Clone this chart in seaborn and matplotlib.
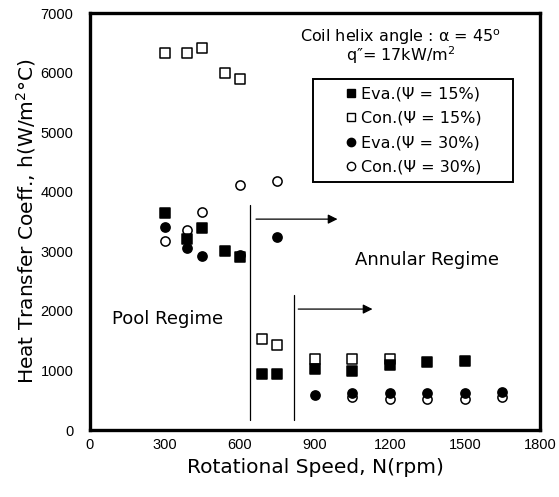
import matplotlib
matplotlib.use("Agg")
import matplotlib.pyplot as plt
import seaborn as sns
import pandas as pd

# ---- data ----
eva15_x = [300, 390, 450, 540, 600, 690, 750, 900, 1050, 1200, 1350, 1500]
eva15_y = [3650, 3200, 3390, 3000, 2900, 935, 935, 1030, 990, 1095, 1150, 1165]
con15_x = [300, 390, 450, 540, 600, 690, 750, 900, 1050, 1200]
con15_y = [6330, 6335, 6410, 6000, 5890, 1530, 1430, 1185, 1200, 1200]
eva30_x = [300, 390, 450, 600, 750, 900, 1050, 1200, 1350, 1500, 1650]
eva30_y = [3410, 3050, 2920, 2940, 3245, 590, 615, 625, 625, 615, 640]
con30_x = [300, 390, 450, 600, 750, 1050, 1200, 1350, 1500, 1650]
con30_y = [3180, 3360, 3655, 4115, 4180, 550, 525, 525, 515, 555]

series_labels = ["Eva.(\u03A8 = 15%)", "Con.(\u03A8 = 15%)",
                 "Eva.(\u03A8 = 30%)", "Con.(\u03A8 = 30%)"]

x_ticks = [0, 300, 600, 900, 1200, 1500, 1800]
y_ticks = [0, 1000, 2000, 3000, 4000, 5000, 6000, 7000]

# regime boundary lines: (x, y_bottom, y_top) and arrows: (x_start, x_end, y)
boundary_lines = [(640, 170, 3780), (818, 170, 2270)]
arrows = [(664, 990, 3540), (833, 1130, 2030)]

df = pd.concat([
    pd.DataFrame({"N": eva15_x, "h": eva15_y, "series": series_labels[0]}),
    pd.DataFrame({"N": con15_x, "h": con15_y, "series": series_labels[1]}),
    pd.DataFrame({"N": eva30_x, "h": eva30_y, "series": series_labels[2]}),
    pd.DataFrame({"N": con30_x, "h": con30_y, "series": series_labels[3]}),
], ignore_index=True)

sns.set_theme(style="white")
plt.rcParams["font.family"] = ["DejaVu Sans"]
plt.rcParams["text.color"] = "black"
plt.rcParams["axes.labelcolor"] = "black"
plt.rcParams["xtick.labelcolor"] = "black"
plt.rcParams["ytick.labelcolor"] = "black"
TICKFONT = ["Liberation Sans", "DejaVu Sans"]

fig = plt.figure(figsize=(5.59, 4.97), dpi=100)
ax = fig.add_axes([0.161, 0.1348, 0.805, 0.839])

styles = {
    series_labels[1]: dict(marker="s", facecolor="white"),
    series_labels[3]: dict(marker="o", facecolor="white"),
    series_labels[2]: dict(marker="o", facecolor="black"),
    series_labels[0]: dict(marker="s", facecolor="black"),
}
handles = {}
for lab in [series_labels[1], series_labels[3], series_labels[2], series_labels[0]]:
    st = styles[lab]
    sub = df[df["series"] == lab]
    sns.scatterplot(data=sub, x="N", y="h", ax=ax, marker=st["marker"],
                    s=44, facecolor=st["facecolor"], edgecolor="black",
                    linewidth=1.1, zorder=3, legend=False)
    handles[lab] = plt.Line2D([], [], linestyle="none", marker=st["marker"],
                              markersize=6, markerfacecolor=st["facecolor"],
                              markeredgecolor="black", markeredgewidth=1.0)

for x, y0, y1 in boundary_lines:
    ax.plot([x, x], [y0, y1], color="black", lw=0.9, zorder=2)
for x0, x1, y in arrows:
    ax.annotate("", xy=(x1, y), xytext=(x0, y),
                arrowprops=dict(arrowstyle="-|>", color="black", lw=0.9,
                                mutation_scale=14, shrinkA=0, shrinkB=0))

ax.text(87, 1870, "Pool Regime", fontsize=13, va="center", ha="left")
ax.text(1060, 2860, "Annular Regime", fontsize=13, va="center", ha="left")
ax.text(1244, 6430,
        "Coil helix angle : \u03B1 = 45$^{\\mathrm{o}}$\nq\u2033= 17kW/m$^{2}$",
        fontsize=11.5, va="center", ha="center", multialignment="center",
        linespacing=0.85)

leg = ax.legend([handles[l] for l in series_labels], series_labels,
                loc="upper left", bbox_to_anchor=(0.495, 0.842, 0.445, 0.0),
                mode="expand", fontsize=11.5, frameon=True, fancybox=False,
                handlelength=3.85, handletextpad=-1.3, labelspacing=0.6,
                borderpad=0.45, borderaxespad=0.0)
fr = leg.get_frame()
fr.set_edgecolor("black")
fr.set_linewidth(1.4)
fr.set_facecolor("white")
fr.set_alpha(1)

ax.set_xlim(0, 1800)
ax.set_ylim(0, 7000)
ax.set_xticks(x_ticks)
ax.set_yticks(y_ticks)
ax.tick_params(axis="both", direction="in", length=3, width=0.5, color="#999999",
               labelsize=10.5, labelcolor="black")
ax.tick_params(axis="y", pad=12)
ax.tick_params(axis="x", pad=6)
for lbl in ax.get_xticklabels() + ax.get_yticklabels():
    lbl.set_family(TICKFONT)
for sp in ax.spines.values():
    sp.set_linewidth(2.4)
    sp.set_color("black")
    sp.set_visible(True)

ax.set_xlabel("Rotational Speed, N(rpm)", fontsize=14.5, labelpad=4, color="black")
ax.set_ylabel("Heat Transfer Coeff., h(W/m$^{2}$\u00B0C)", fontsize=14.5,
              labelpad=2, color="black")

fig.savefig("out.png", dpi=100)
